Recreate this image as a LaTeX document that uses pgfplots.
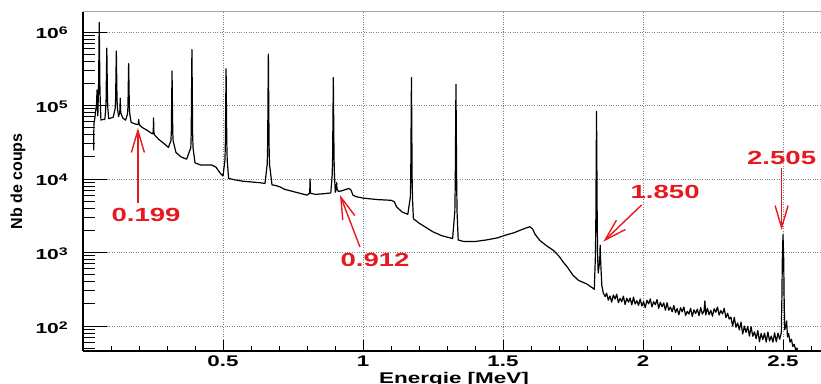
\documentclass[border=0pt]{standalone}
\usepackage{fontspec}
\setmainfont{Liberation Sans}
\newfontfamily\wideb{Liberation Sans}[FakeStretch=1.45]
\usepackage{pgfplots}
\pgfplotsset{compat=1.18}
\usetikzlibrary{arrows.meta}
\definecolor{rred}{RGB}{230,25,30}
\newcommand{\ytl}[1]{\wideb\bfseries\fontsize{14.5}{14.5}\selectfont 10\raisebox{4pt}{\fontsize{11}{11}\selectfont #1}}
\newcommand{\lab}{\wideb\bfseries\fontsize{19}{19}\selectfont}
\begin{document}
\begin{tikzpicture}
\useasboundingbox (-83pt,-32pt) rectangle (738pt,351pt);
\begin{axis}[
  at={(0pt,0pt)}, anchor=south west,
  scale only axis, width=742pt, height=339pt,
  xmin=0, xmax=2.65, ymode=log, ymin=45.7, ymax=1.87e6,
  clip mode=individual,
  axis line style={draw=none},
  xtick={0.5,1,1.5,2,2.5}, xticklabels={0.5,1,1.5,2,2.5},
  minor xtick={0.1,0.2,0.3,0.4,0.6,0.7,0.8,0.9,1.1,1.2,1.3,1.4,1.6,1.7,1.8,1.9,2.1,2.2,2.3,2.4,2.6},
  ytick={100,1000,10000,100000,1000000},
  yticklabels={\ytl{2},\ytl{3},\ytl{4},\ytl{5},\ytl{6}},
  minor ytick={50,60,70,80,90,200,300,400,500,600,700,800,900,2000,3000,4000,5000,6000,7000,8000,9000,20000,30000,40000,50000,60000,70000,80000,90000,200000,300000,400000,500000,600000,700000,800000,900000},
  xtick pos=bottom, ytick pos=left,
  tick align=inside,
  major tick length=11pt, minor tick length=5.5pt,
  y tick style={/pgfplots/major tick length=24pt, /pgfplots/minor tick length=12pt},
  tick style={black, line width=0.9pt},
  grid=major,
  major grid style={gray, dotted, line width=0.7pt},
  xticklabel style={font=\wideb\bfseries\fontsize{15.4}{15.4}\selectfont, inner sep=0pt, anchor=north, yshift=-4.7pt},
  yticklabel style={inner sep=0pt, anchor=base east, xshift=-15pt, yshift=-7pt},
  xlabel={Energie [MeV]},
  xlabel style={at={(rel axis cs:0.5,0)}, anchor=base, yshift=-32pt, inner sep=0pt, font=\wideb\bfseries\fontsize{15.5}{15.5}\selectfont},
  ylabel={Nb de coups},
  ylabel style={at={(axis description cs:-0.0876,0.5)}, anchor=center, inner sep=0pt, font=\bfseries\fontsize{16}{16}\selectfont},
]
\addplot[black, line width=1.2pt, line join=round] table {
E C
0.038 2.45e4
0.039 5.62e4
0.042 6.61e4
0.046 8.91e4
0.048 1.0e5
0.0488 1.12e5
0.050 1.62e5
0.0512 1.0e5
0.053 7.24e4
0.054 1.07e5
0.0555 1.62e5
0.058 1.35e6
0.0605 1.62e5
0.062 1.07e5
0.064 6.31e4
0.070 6.46e4
0.078 6.46e4
0.081 8.81e4
0.0825 1.20e5
0.085 6.03e5
0.0875 1.20e5
0.089 8.81e4
0.092 6.61e4
0.100 6.76e4
0.108 6.92e4
0.115 9.12e4
0.1165 1.20e5
0.119 5.50e5
0.1215 1.20e5
0.123 9.12e4
0.127 7.08e4
0.131 7.94e4
0.132 8.91e4
0.133 1.26e5
0.134 8.91e4
0.135 7.94e4
0.142 6.76e4
0.152 6.31e4
0.159 7.67e4
0.1605 9.55e4
0.163 3.72e5
0.1655 9.55e4
0.167 7.67e4
0.172 5.89e4
0.185 5.62e4
0.196 5.5e4
0.198 5.75e4
0.199 6.46e4
0.200 5.75e4
0.202 5.4e4
0.212 5.01e4
0.230 4.57e4
0.245 4.17e4
0.249 4.1e4
0.251 4.47e4
0.252 6.76e4
0.253 4.47e4
0.255 4.0e4
0.270 3.47e4
0.290 3.02e4
0.305 2.69e4
0.314 3.31e4
0.3155 4.37e4
0.318 2.95e5
0.3205 4.37e4
0.322 3.31e4
0.332 2.29e4
0.350 2.0e4
0.370 1.86e4
0.385 2.66e4
0.3865 4.17e4
0.389 5.75e5
0.3915 4.17e4
0.393 2.66e4
0.400 1.66e4
0.420 1.55e4
0.440 1.55e4
0.460 1.55e4
0.475 1.45e4
0.490 1.20e4
0.500 1.10e4
0.507 1.82e4
0.5085 3.16e4
0.511 3.16e5
0.5135 3.16e4
0.515 1.82e4
0.520 1.02e4
0.540 9.77e3
0.570 9.33e3
0.600 9.12e3
0.630 8.91e3
0.650 8.71e3
0.658 1.60e4
0.6595 2.95e4
0.662 5.01e5
0.6645 2.95e4
0.666 1.60e4
0.675 8.32e3
0.690 8.13e3
0.705 7.76e3
0.720 7.24e3
0.750 6.76e3
0.780 6.31e3
0.800 6.03e3
0.809 6.4e3
0.810 7.08e3
0.811 1.0e4
0.812 7.08e3
0.813 6.4e3
0.830 6.17e3
0.860 6.31e3
0.885 6.46e3
0.890 1.14e4
0.8915 2.0e4
0.894 2.40e5
0.8965 2.0e4
0.898 1.14e4
0.901 6.61e3
0.905 7.41e3
0.906 8.91e3
0.907 7.41e3
0.912 6.76e3
0.925 6.92e3
0.940 7.24e3
0.950 7.41e3
0.957 7.08e3
0.964 6.03e3
0.975 5.75e3
1.000 5.50e3
1.050 5.25e3
1.100 5.13e3
1.112 4.90e3
1.120 4.17e3
1.140 3.55e3
1.160 3.31e3
1.169 5.62e3
1.1705 1.0e4
1.173 2.40e5
1.1755 1.0e4
1.177 5.2e3
1.180 2.88e3
1.190 2.69e3
1.200 2.51e3
1.225 2.19e3
1.250 1.91e3
1.280 1.70e3
1.300 1.62e3
1.320 1.55e3
1.328 3.63e3
1.3295 8.91e3
1.332 1.95e5
1.3345 8.91e3
1.336 3.5e3
1.340 1.48e3
1.360 1.41e3
1.400 1.41e3
1.440 1.48e3
1.480 1.58e3
1.513 1.74e3
1.540 1.86e3
1.560 2.0e3
1.580 2.14e3
1.596 2.24e3
1.606 2.09e3
1.614 1.78e3
1.632 1.45e3
1.660 1.20e3
1.680 1.07e3
1.700 891
1.715 741
1.730 631
1.750 490
1.770 417
1.800 372
1.815 339
1.826 316
1.830 891
1.8315 2.51e3
1.834 8.32e4
1.8365 2.51e3
1.838 891
1.840 525
1.844 700
1.846 891
1.847 1.26e3
1.848 891
1.850 600
1.853 355
1.858 282
1.865 251
1.870 280
1.876 225
1.882 256
1.888 211
1.894 264
1.900 233
1.906 271
1.912 208
1.918 237
1.924 214
1.930 255
1.936 196
1.942 239
1.948 211
1.954 240
1.960 194
1.966 247
1.972 199
1.978 221
1.984 191
1.990 233
1.996 187
2.002 214
2.008 178
2.014 224
2.020 200
2.026 234
2.032 182
2.038 214
2.044 195
2.050 229
2.056 174
2.062 210
2.068 183
2.074 206
2.080 164
2.086 207
2.092 164
2.098 181
2.104 156
2.110 190
2.116 152
2.122 173
2.128 142
2.134 177
2.140 156
2.146 181
2.152 139
2.158 158
2.164 145
2.170 174
2.176 135
2.182 166
2.188 148
2.194 170
2.200 138
2.206 178
2.212 145
2.218 162
2.221 219
2.224 141
2.230 175
2.236 142
2.242 164
2.248 136
2.254 172
2.260 154
2.266 181
2.272 141
2.278 162
2.284 146
2.290 174
2.296 130
2.302 149
2.308 124
2.314 132
2.320 100
2.326 131
2.332 96
2.338 110
2.344 88.5
2.350 113
2.356 77.8
2.362 99.5
2.368 82
2.374 98.4
2.380 72.8
2.386 97.9
2.392 72.4
2.398 83.2
2.404 67.5
2.410 86.7
2.416 61.2
2.422 79.3
2.428 65.5
2.434 80
2.440 60.4
2.446 82.8
2.452 62.5
2.458 72.9
2.464 60.3
2.470 80.7
2.476 61
2.482 80
2.488 66.2
2.494 81.3
2.496 240
2.4975 794
2.500 1740
2.5025 794
2.504 240
2.506 89
2.510 100
2.513 117
2.516 70.8
2.520 79.4
2.525 60.3
2.530 66.1
2.535 52.5
2.540 56.2
2.545 47.9
2.550 50.1
2.556 38
2.560 31.6
};
\draw[black, line width=1.5pt] (rel axis cs:0,0) -- (rel axis cs:1,0);
\draw[black, line width=1.2pt] (rel axis cs:0,0) -- (rel axis cs:0,1);
\draw[gray!70, line width=1pt] (rel axis cs:0,1) -- (rel axis cs:1,1);
\draw[rred, line width=1.4pt, -{Straight Barb[length=22pt,width=13pt]}] (axis cs:0.196,4710) -- (axis cs:0.196,49400);
\node[rred, font=\lab] at (axis cs:0.225,3240) {0.199};
\draw[rred, line width=1.4pt, -{Straight Barb[length=22pt,width=13pt]}] (axis cs:0.989,1190) -- (axis cs:0.918,6050);
\node[rred, font=\lab] at (axis cs:1.043,791) {0.912};
\draw[rred, line width=1.4pt, -{Straight Barb[length=22pt,width=13pt]}] (axis cs:1.995,4430) -- (axis cs:1.858,1400);
\node[rred, font=\lab] at (axis cs:2.079,6710) {1.850};
\draw[rred, line width=1.4pt, -{Straight Barb[length=22pt,width=13pt]}] (axis cs:2.495,14100) -- (axis cs:2.495,2020);
\node[rred, font=\lab] at (axis cs:2.495,19300) {2.505};
\end{axis}
\end{tikzpicture}
\end{document}
